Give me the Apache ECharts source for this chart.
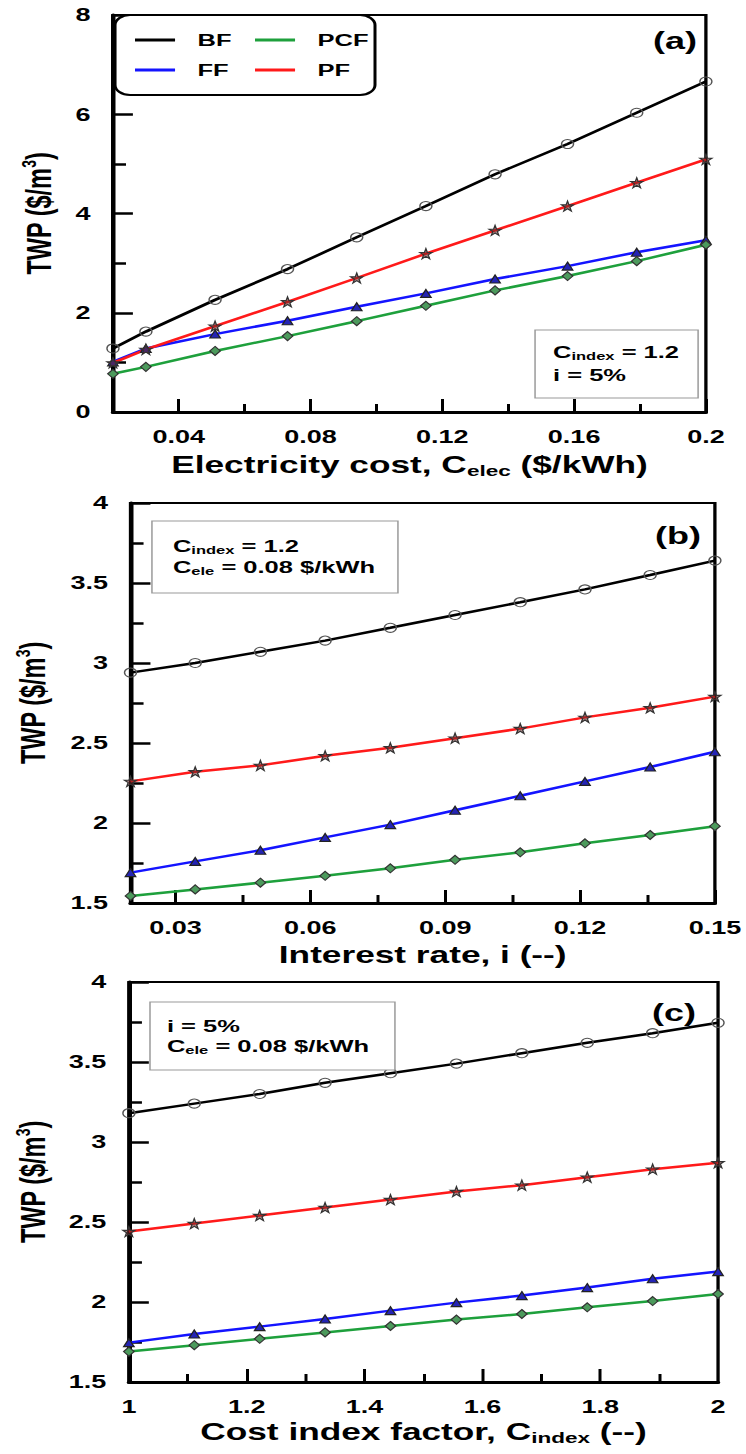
<!DOCTYPE html>
<html>
<head>
<meta charset="utf-8">
<script src="https://cdn.jsdelivr.net/npm/echarts@6/dist/echarts.min.js"></script>
<style>
html,body{margin:0;padding:0;background:#fff;overflow:hidden;}
#wrap{width:746px;height:1454px;overflow:hidden;position:relative;background:#fff;}
#c{width:497.33px;height:1454px;transform:scaleX(1.5);transform-origin:0 0;}
</style>
</head>
<body>
<div id="wrap"><div id="c"></div></div>
<script>
// ---------------- DATA ----------------
const seriesNames = ['BF', 'FF', 'PCF', 'PF'];

// Panel (a): electricity cost
const xA = [0.02, 0.03, 0.051, 0.073, 0.094, 0.115, 0.136, 0.158, 0.179, 0.2];
const bfA = [1.28, 1.62, 2.26, 2.88, 3.52, 4.15, 4.79, 5.40, 6.03, 6.66];
const ffA = [1.01, 1.28, 1.57, 1.84, 2.12, 2.39, 2.68, 2.94, 3.22, 3.46];
const pcfA = [0.77, 0.91, 1.23, 1.53, 1.83, 2.14, 2.45, 2.74, 3.04, 3.37];
const pfA = [0.99, 1.26, 1.73, 2.22, 2.70, 3.19, 3.66, 4.15, 4.62, 5.09];

// Panel (b): interest rate
const xB = [0.02, 0.0344, 0.0489, 0.0633, 0.0778, 0.0922, 0.1067, 0.1211, 0.1356, 0.15];
const bfB = [2.94, 3.00, 3.07, 3.14, 3.22, 3.30, 3.38, 3.46, 3.55, 3.64];
const ffB = [1.69, 1.76, 1.83, 1.91, 1.99, 2.08, 2.17, 2.26, 2.35, 2.445];
const pcfB = [1.544, 1.585, 1.627, 1.67, 1.717, 1.77, 1.817, 1.873, 1.925, 1.98];
const pfB = [2.26, 2.32, 2.36, 2.42, 2.47, 2.53, 2.59, 2.66, 2.72, 2.79];

// Panel (c): cost index factor
const xC = [1, 1.111, 1.222, 1.333, 1.444, 1.556, 1.667, 1.778, 1.889, 2];
const bfC = [3.18, 3.24, 3.30, 3.37, 3.43, 3.49, 3.555, 3.62, 3.68, 3.745];
const ffC = [1.746, 1.80, 1.846, 1.894, 1.946, 1.996, 2.04, 2.09, 2.145, 2.19];
const pcfC = [1.69, 1.73, 1.77, 1.81, 1.85, 1.89, 1.925, 1.967, 2.006, 2.05];
const pfC = [2.44, 2.49, 2.54, 2.59, 2.64, 2.69, 2.73, 2.78, 2.83, 2.87];

// Tick values
const xLabelsA = [0.04, 0.08, 0.12, 0.16, 0.2];
const xMajorA = [0.04, 0.08, 0.12, 0.16, 0.2];
const xMinorA = [0.06, 0.1, 0.14, 0.18];
const xLabelsB = [0.03, 0.06, 0.09, 0.12, 0.15];
const xMajorB = [0.03, 0.06, 0.09, 0.12, 0.15];
const xMinorB = [0.045, 0.075, 0.105, 0.135];
const xLabelsC = [1, 1.2, 1.4, 1.6, 1.8, 2];
const xMajorC = [1.2, 1.4, 1.6, 1.8];
const xMinorC = [1.1, 1.3, 1.5, 1.7, 1.9];

// ---------------- STYLE ----------------
const FONT = "'Liberation Sans', Arial, Helvetica, sans-serif";
const COLORS = { BF: '#000000', FF: '#1414ff', PCF: '#1ea03c', PF: '#ff1a1a' };
const STAR = 'path://M50 0 L61.8 35.1 L98.9 35.1 L68.9 56.9 L80.3 92 L50 70.4 L19.7 92 L31.1 56.9 L1.1 35.1 L38.2 35.1 Z';
const SYMBOLS = {
  BF: { symbol: 'circle', size: [8, 9], fill: 'rgba(0,0,0,0)', border: '#555' },
  FF: { symbol: 'triangle', size: [7, 8], fill: '#2424b4', border: '#222' },
  PCF: { symbol: 'diamond', size: [7, 9], fill: '#4c9a5c', border: '#333' },
  PF: { symbol: STAR, size: [8, 10], fill: 'rgba(110,40,40,0.55)', border: '#333' }
};

const chart = echarts.init(document.getElementById('c'), null, { renderer: 'svg', width: 497.33, height: 1454 });

const grids = [
  { left: 75.3, top: 15, width: 395.3, height: 397 },
  { left: 81.3, top: 503, width: 395.3, height: 400 },
  { left: 82.7, top: 982, width: 396, height: 400 }
].map(g => Object.assign(g, { show: true, borderColor: '#000', borderWidth: 2.2, backgroundColor: 'transparent' }));

const nameStyle = {
  fontFamily: FONT, fontSize: 23.5, fontWeight: 'bold', color: '#000', lineHeight: 27,
  rich: {
    s: { fontFamily: FONT, fontSize: 15, fontWeight: 'bold', color: '#000', lineHeight: 12, verticalAlign: 'bottom' },
    p: { fontFamily: FONT, fontSize: 14, fontWeight: 'bold', color: '#000', lineHeight: 12, verticalAlign: 'top' }
  }
};
const labelStyle = { fontFamily: FONT, fontSize: 18, fontWeight: 'bold', color: '#000' };

function xMain(gi, min, max, major, labels, name, gap) {
  return {
    type: 'value', gridIndex: gi, position: 'bottom', min: min, max: max,
    name: name, nameLocation: 'middle', nameGap: gap, nameTextStyle: nameStyle,
    axisLine: { show: true, onZero: false, lineStyle: { color: '#000', width: 3 } },
    axisTick: { show: true, inside: true, length: 13, customValues: major, lineStyle: { color: '#000', width: 2 } },
    axisLabel: Object.assign({ show: true, margin: 16, customValues: labels }, labelStyle),
    splitLine: { show: false }
  };
}
function xMinor(gi, min, max, minor) {
  return {
    type: 'value', gridIndex: gi, position: 'bottom', min: min, max: max,
    axisLine: { show: false, onZero: false },
    axisTick: { show: true, inside: true, length: 8, customValues: minor, lineStyle: { color: '#000', width: 2 } },
    axisLabel: { show: false },
    splitLine: { show: false }
  };
}
function yAx(gi, min, max, interval, gap) {
  return {
    type: 'value', gridIndex: gi, min: min, max: max, interval: interval,
    name: 'TWP ($/m{p|3})', nameLocation: 'middle', nameRotate: 90, nameGap: gap, nameTextStyle: nameStyle,
    axisLine: { show: true, onZero: false, lineStyle: { color: '#000', width: 3 } },
    axisTick: { show: true, inside: true, length: 13.3, lineStyle: { color: '#000', width: 2.5 } },
    minorTick: { show: true, splitNumber: 2, length: 8.7, lineStyle: { color: '#000', width: 2.5 } },
    axisLabel: Object.assign({ show: true, margin: 15 }, labelStyle),
    splitLine: { show: false }, minorSplitLine: { show: false }
  };
}

function mk(name, xs, ys, gi) {
  const s = SYMBOLS[name];
  return {
    type: 'line', name: name, xAxisIndex: gi * 2, yAxisIndex: gi,
    data: xs.map((x, i) => [x, ys[i]]),
    symbol: s.symbol, symbolSize: s.size, showSymbol: true, clip: false,
    lineStyle: { color: COLORS[name], width: 2.5 },
    itemStyle: { color: s.fill, borderColor: s.border, borderWidth: 1 },
    emphasis: { disabled: true }, z: name === 'BF' ? 5 : 3
  };
}

const series = [
  mk('BF', xA, bfA, 0), mk('FF', xA, ffA, 0), mk('PCF', xA, pcfA, 0), mk('PF', xA, pfA, 0),
  mk('BF', xB, bfB, 1), mk('FF', xB, ffB, 1), mk('PCF', xB, pcfB, 1), mk('PF', xB, pfB, 1),
  mk('BF', xC, bfC, 2), mk('FF', xC, ffC, 2), mk('PCF', xC, pcfC, 2), mk('PF', xC, pfC, 2)
];

const legendCommon = {
  orient: 'vertical', top: 31, padding: 0, itemGap: 12, itemWidth: 26.7, itemHeight: 3,
  icon: 'rect', selectedMode: false,
  textStyle: { fontFamily: FONT, fontSize: 17, fontWeight: 'bold', color: '#000', lineHeight: 18, padding: [0, 0, 0, 10] },
  itemStyle: { borderWidth: 0 }
};
const legItem = n => ({ name: n, itemStyle: { color: COLORS[n], borderWidth: 0 } });

const txtBase = { fontFamily: FONT, fontSize: 17, fontWeight: 'bold', fill: '#000', lineHeight: 20 };
const richSub = { fontFamily: FONT, fontSize: 11, fontWeight: 'bold', fill: '#000', lineHeight: 10, verticalAlign: 'bottom' };
function note(x, y, text) {
  return {
    type: 'text', x: x, y: y, z: 50,
    style: Object.assign({ text: text, align: 'left', verticalAlign: 'middle', rich: { b: txtBase, s: richSub } }, txtBase)
  };
}
function box(x, y, w, h) {
  return { type: 'rect', z: 40, shape: { x: x, y: y, width: w, height: h }, style: { fill: '#fff', stroke: '#9a9a9a', lineWidth: 1 } };
}
function panelLabel(x, y, t) {
  return { type: 'text', x: x, y: y, z: 50, style: { text: t, align: 'right', verticalAlign: 'middle', fontFamily: FONT, fontSize: 24, fontWeight: 'bold', fill: '#000' } };
}

const option = {
  animation: false,
  backgroundColor: '#fff',
  grid: grids,
  xAxis: [
    xMain(0, 0.02, 0.2, xMajorA, xLabelsA, 'Electricity cost, C{s|elec} ($/kWh)', 39),
    xMinor(0, 0.02, 0.2, xMinorA),
    xMain(1, 0.02, 0.15, xMajorB, xLabelsB, 'Interest rate, i (--)', 38),
    xMinor(1, 0.02, 0.15, xMinorB),
    xMain(2, 1, 2, xMajorC, xLabelsC, 'Cost index factor, C{s|index} (--)', 36),
    xMinor(2, 1, 2, xMinorC)
  ],
  yAxis: [
    yAx(0, 0, 8, 2, 30),
    yAx(1, 1.5, 4, 0.5, 52),
    yAx(2, 1.5, 4, 0.5, 47)
  ],
  legend: [
    Object.assign({ left: 90, data: [legItem('BF'), legItem('FF')] }, legendCommon),
    Object.assign({ left: 170, data: [legItem('PCF'), legItem('PF')] }, legendCommon)
  ],
  graphic: [
    { type: 'rect', z: 1, shape: { x: 76.7, y: 15, width: 173.3, height: 80, r: 10 }, style: { fill: '#fff', stroke: '#000', lineWidth: 2 } },
    panelLabel(464.7, 40, '(a)'),
    panelLabel(467.3, 535, '(b)'),
    panelLabel(464, 1012, '(c)'),
    box(356.7, 330, 108.7, 68),
    note(368.7, 352, '{b|C}{s|index}{b| = 1.2}'),
    note(368.7, 375, 'i = 5%'),
    box(101.3, 521, 164, 72),
    note(115.3, 546, '{b|C}{s|index}{b| = 1.2}'),
    note(115.3, 567, '{b|C}{s|ele}{b| = 0.08 $/kWh}'),
    box(100, 1002, 163.3, 68),
    note(111.3, 1026, 'i = 5%'),
    note(111.3, 1046, '{b|C}{s|ele}{b| = 0.08 $/kWh}')
  ],
  series: series
};
chart.setOption(option);
</script>
</body>
</html>
